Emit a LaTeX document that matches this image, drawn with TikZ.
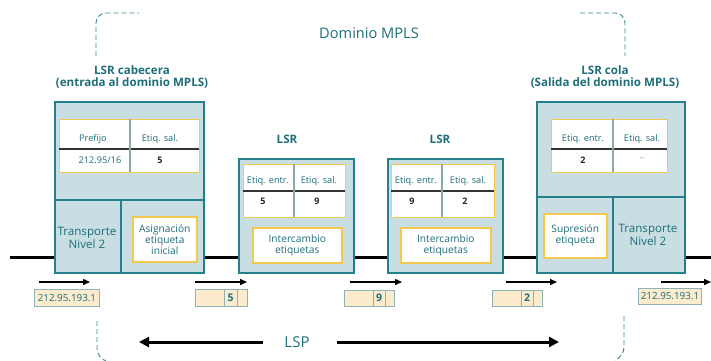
\documentclass[tikz,border=0pt]{standalone}
\usepackage{fontspec}
\setmainfont{Open Sans}
\usetikzlibrary{arrows.meta}
\definecolor{tealc}{HTML}{23808C}
\definecolor{txtc}{HTML}{1E6E7A}
\definecolor{boxf}{HTML}{C8DEE3}
\definecolor{yelc}{HTML}{F2C94C}
\definecolor{pktf}{HTML}{FCEBCD}
\definecolor{pktd}{HTML}{8DB3B9}
\definecolor{dashc}{HTML}{3A8A95}
\begin{document}
\begin{tikzpicture}[x=1pt,y=-1pt,
  router/.style={draw=tealc, fill=boxf, line width=1.6pt, anchor=north west, inner sep=0pt},
  tbl/.style={draw=yelc, fill=white, line width=1pt, anchor=north west, inner sep=0pt},
  yelbox/.style={draw=yelc, fill=white, line width=1.6pt, anchor=north west, inner sep=0pt, align=center, text=txtc, font=\fontsize{10.2}{11}\selectfont},
  pkt/.style={draw=pktd, fill=pktf, line width=0.9pt, anchor=north west, inner sep=0pt},
  divider/.style={draw=tealc, line width=2.8pt},
  hline/.style={draw=black!80, line width=1.5pt},
  vline/.style={draw=pktd!80!gray, line width=1.2pt},
  hdr/.style={text=txtc, font=\fontsize{9.2}{10}\selectfont},
  val/.style={text=black!85, font=\bfseries\fontsize{9}{10}\selectfont},
  ttl/.style={text=txtc, font=\bfseries\fontsize{11.6}{12.5}\selectfont, align=center},
  trans/.style={text=txtc, font=\fontsize{11.6}{13}\selectfont, align=center},
  wire/.style={draw=black, line width=3pt},
  flow/.style={draw=black, line width=1.4pt, -{Triangle[length=7pt,width=6pt]}},
  lsp/.style={draw=black, line width=3pt, -{Triangle[length=10pt,width=10pt]}},
  dom/.style={draw=dashc, line width=0.9pt, dash pattern=on 5pt off 3pt},
  pkttxt/.style={text=txtc, font=\fontsize{9.8}{10}\selectfont},
  pktnum/.style={text=txtc, font=\bfseries\fontsize{10.5}{10}\selectfont}
]
\useasboundingbox (0,0) rectangle (711,360);

% domain outline (visible parts)
\draw[dom] (96,56) -- (96,23) arc[start angle=180,end angle=270,radius=10] -- (139,13);
\draw[dom] (580,13) -- (615,13) arc[start angle=270,end angle=360,radius=10] -- (625,56);
\draw[dom] (97,321) -- (97,348) arc[start angle=180,end angle=110,radius=14];
\draw[dom] (624,316) -- (624,347) arc[start angle=0,end angle=70,radius=14];
\node[text=txtc, font=\fontsize{14.6}{16}\selectfont] (domlbl) at (369,33) {Dominio MPLS};

% wire
\coordinate (w0) at (10,257);
\coordinate (w1) at (711,257);

% head LSR
\node[router, minimum width=149, minimum height=171] (hd) at (54,101) {};
\node[ttl] (hdlbl) at (132,77) {LSR cabecera\\(entrada al dominio MPLS)};
\node[tbl, minimum width=140, minimum height=53] (hdt) at (59,119) {};
\draw[hline] (59,149) -- (199,149);
\draw[vline] (130,119) -- (130,172);
\node[hdr] (hdh1) at (93,139) {Prefijo};
\node[hdr] (hdh2) at (160,139) {Etiq. sal.};
\node[hdr] (hdv1) at (100,160) {212.95/16};
\node[val] (hdv2) at (160,160) {5};
\draw[divider] (54,200) -- (203,200);
\draw[divider] (121,200) -- (121,272);
\node[trans] (hdtr) at (87,238) {Transporte\\Nivel 2};
\node[yelbox, minimum width=64, minimum height=45] (hdy) at (132,216) {Asignación\\etiqueta\\inicial};

% LSR 1
\node[router, minimum width=115, minimum height=114] (l1) at (238,158) {};
\node[ttl] (l1lbl) at (287,139) {LSR};
\node[tbl, minimum width=102, minimum height=53] (l1t) at (243,164) {};
\draw[hline] (243,191) -- (345,191);
\draw[vline] (294,164) -- (294,217);
\node[hdr] (l1h1) at (268,181) {Etiq. entr.};
\node[hdr] (l1h2) at (319,181) {Etiq. sal.};
\node[val] (l1v1) at (263,201) {5};
\node[val] (l1v2) at (317,201) {9};
\node[yelbox, minimum width=89, minimum height=35] (l1y) at (252,227) {Intercambio\\etiquetas};

% LSR 2
\node[router, minimum width=115, minimum height=114] (l2) at (387,158) {};
\node[ttl] (l2lbl) at (440,139) {LSR};
\node[tbl, minimum width=103, minimum height=53] (l2t) at (391,164) {};
\draw[hline] (391,191) -- (494,191);
\draw[vline] (442,164) -- (442,217);
\node[hdr] (l2h1) at (416,181) {Etiq. entr.};
\node[hdr] (l2h2) at (468,181) {Etiq. sal.};
\node[val] (l2v1) at (412,201) {9};
\node[val] (l2v2) at (465,201) {2};
\node[yelbox, minimum width=90, minimum height=35] (l2y) at (400,227) {Intercambio\\etiquetas};

% tail LSR
\node[router, minimum width=148, minimum height=171] (tl) at (536,101) {};
\node[ttl] (tllbl) at (605,77) {LSR cola\\(Salida del dominio MPLS)};
\node[tbl, minimum width=116, minimum height=53] (tlt) at (551,119) {};
\draw[hline] (551,149) -- (667,149);
\draw[vline] (613,119) -- (613,172);
\node[hdr] (tlh1) at (583,139) {Etiq. entr.};
\node[hdr] (tlh2) at (642,139) {Etiq. sal.};
\node[val] (tlv1) at (583,160) {2};
\node[text=gray, font=\fontsize{8}{9}\selectfont] (tlv2) at (642,159) {{-}{-}};
\draw[divider] (536,197) -- (684,197);
\draw[divider] (613,197) -- (613,272);
\node[trans] (tltr) at (648,235) {Transporte\\Nivel 2};
\node[yelbox, minimum width=63, minimum height=44] (tly) at (543,213) {Supresión\\etiqueta};

% wire segments
\draw[wire] (w0) -- (hd.west |- w0);
\draw[wire] (hd.east |- w0) -- (l1.west |- w0);
\draw[wire] (l1.east |- w0) -- (l2.west |- w0);
\draw[wire] (l2.east |- w0) -- (tl.west |- w0);
\draw[wire] (tl.east |- w0) -- (w1);

% flow arrows
\coordinate (a1s) at (39,282); \coordinate (a1e) at (90,282);
\coordinate (a2s) at (195,282); \coordinate (a2e) at (247,282);
\coordinate (a3s) at (350,282); \coordinate (a3e) at (402,282);
\coordinate (a4s) at (506,282); \coordinate (a4e) at (557,282);
\coordinate (a5s) at (661,282); \coordinate (a5e) at (711,282);
\draw[flow] (a1s) -- (a1e);
\draw[flow] (a2s) -- (a2e);
\draw[flow] (a3s) -- (a3e);
\draw[flow] (a4s) -- (a4e);
\draw[flow] (a5s) -- (a5e);

% packets
\node[pkt, minimum width=65, minimum height=17] (p1) at (34,289) {};
\node[pkttxt] at (p1.center) {212.95.193.1};
\node[pkt, minimum width=52, minimum height=17] (p2) at (195,289) {};
\draw[draw=pktd, line width=0.9pt] (224,289) -- (224,306) (237,289) -- (237,306);
\node[pktnum] (p2n) at (230.5,297.5) {5};
\node[pkt, minimum width=50, minimum height=16] (p3) at (344,290) {};
\draw[draw=pktd, line width=0.9pt] (373,290) -- (373,306) (385,290) -- (385,306);
\node[pktnum] (p3n) at (379,298) {9};
\node[pkt, minimum width=50, minimum height=16] (p4) at (492,290) {};
\draw[draw=pktd, line width=0.9pt] (521,290) -- (521,306) (533,290) -- (533,306);
\node[pktnum] (p4n) at (527,298) {2};
\node[pkt, minimum width=63, minimum height=16] (p5) at (638,288) {};
\node[pkttxt] at (p5.center) {212.95.193.1};

% LSP
\node[text=txtc, font=\fontsize{15}{16}\selectfont] (lsp) at (297,342) {LSP};
\coordinate (lspl) at (139,342);
\coordinate (lspr) at (559,342);
\draw[lsp] (lsp.west) ++(-18,0) -- (lspl);
\draw[lsp] (lsp.east) ++(24,0) -- (lspr);
\end{tikzpicture}
\end{document}
